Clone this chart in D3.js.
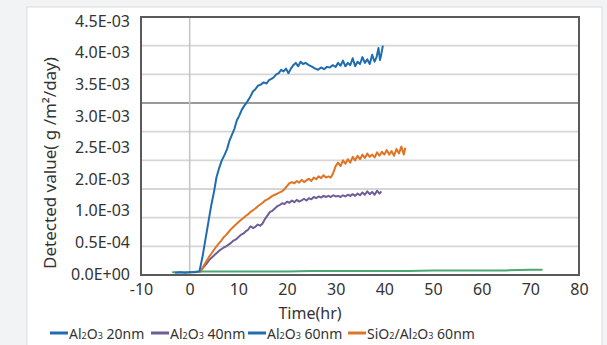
<!DOCTYPE html>
<html>
<head>
<meta charset="utf-8">
<script src="https://cdn.jsdelivr.net/npm/d3@7"></script>
<style>
  body { margin: 0; background: #f2f3f4; }
  svg { display: block; }
  text { font-family: "Noto Sans", "Open Sans", sans-serif; fill: #333; }
</style>
</head>
<body>
<div id="chart"></div>
<script>
// values in units of 1E-03 g/m2/day, time in hr
const xTicks = [-10, 0, 10, 20, 30, 40, 50, 60, 70, 80];
const gridValues = [0, 0.5, 1, 1.5, 2, 2.5, 3, 3.5, 4, 4.5];
// the printed labels, bottom to top (evenly spaced, as in the source picture)
const yTickLabels = ["0.0E+00", "0.5E-04", "1.0E-03", "2.0E-03", "2.5E-03", "3.0E-03", "3.5E-03", "4.0E-03", "4.5E-03"];

const seriesNames = ["Al₂O₃ 20nm", "Al₂O₃ 40nm", "Al₂O₃ 60nm", "SiO₂/Al₂O₃ 60nm"];
const legendColors = ["#1f6db0", "#6e5d98", "#1f6db0", "#e07424"];

const al20 = [[-3,0.04],[-2,0.05],[-1,0.04],[0,0.05],[1,0.05],[2,0.06],[2.6,0.3],[3.2,0.6],[3.8,0.9],[4.4,1.2],[5,1.45],[5.5,1.7],[6,1.85],[6.6,2.0],[7.2,2.1],[7.7,2.2],[8.2,2.35],[8.7,2.45],[9.2,2.55],[9.7,2.7],[10.2,2.78],[10.7,2.88],[11.2,2.95],[11.8,3.02],[12.4,3.1],[13,3.2],[13.5,3.24],[14,3.3],[14.6,3.32],[15.2,3.36],[15.8,3.34],[16.3,3.4],[16.8,3.42],[17.3,3.45],[17.8,3.5],[18.3,3.52],[18.8,3.58],[19.3,3.55],[19.8,3.6],[20.3,3.52],[20.8,3.6],[21.3,3.66],[21.8,3.7],[22.3,3.64],[22.8,3.72],[23.3,3.68],[23.8,3.7],[24.5,3.66],[25.2,3.63],[25.8,3.6],[26.4,3.58],[27,3.62],[27.6,3.59],[28.2,3.63],[28.8,3.62],[29.4,3.66],[30,3.63],[30.5,3.7],[31,3.65],[31.5,3.74],[32,3.64],[32.5,3.7],[33,3.66],[33.5,3.78],[34,3.64],[34.5,3.72],[35,3.68],[35.5,3.8],[36,3.7],[36.5,3.76],[37,3.68],[37.5,3.84],[38,3.72],[38.4,3.8],[38.8,3.96],[39.1,3.75],[39.4,3.86],[39.7,4.0]];
const al40 = [[2,0.05],[2.5,0.1],[3,0.15],[3.5,0.2],[4,0.26],[4.5,0.3],[5,0.34],[5.5,0.38],[6,0.42],[6.5,0.45],[7,0.48],[7.5,0.5],[8,0.53],[8.5,0.56],[9,0.6],[9.5,0.62],[10,0.66],[10.5,0.7],[11,0.72],[11.5,0.76],[12,0.79],[12.5,0.85],[13,0.82],[13.5,0.84],[14,0.88],[14.5,0.86],[15,0.9],[15.5,0.98],[16,1.04],[16.5,1.1],[17,1.12],[17.5,1.16],[18,1.2],[18.5,1.22],[19,1.25],[19.5,1.24],[20,1.28],[20.5,1.26],[21,1.3],[21.5,1.27],[22,1.31],[22.5,1.28],[23,1.3],[23.5,1.33],[24,1.3],[24.5,1.34],[25,1.32],[25.5,1.36],[26,1.34],[26.5,1.37],[27,1.35],[27.5,1.38],[28,1.36],[28.5,1.38],[29,1.36],[29.5,1.39],[30,1.37],[30.5,1.38],[31,1.36],[31.5,1.39],[32,1.37],[32.5,1.4],[33,1.38],[33.5,1.41],[34,1.38],[34.5,1.42],[35,1.39],[35.5,1.44],[36,1.4],[36.5,1.46],[37,1.41],[37.5,1.45],[38,1.4],[38.5,1.47],[39,1.42],[39.4,1.46]];
const al60 = [[-3.6,0.05],[-2,0.05],[0,0.05],[2,0.06],[5,0.06],[10,0.06],[15,0.06],[20,0.06],[25,0.07],[30,0.07],[35,0.07],[40,0.07],[45,0.07],[50,0.08],[55,0.08],[60,0.08],[65,0.08],[70,0.09],[72.5,0.09]];
const sio2 = [[2,0.05],[2.5,0.1],[3,0.18],[3.5,0.25],[4,0.32],[4.5,0.38],[5,0.44],[5.5,0.5],[6,0.55],[6.5,0.6],[7,0.66],[7.5,0.7],[8,0.75],[8.5,0.8],[9,0.84],[9.5,0.88],[10,0.92],[10.5,0.96],[11,0.99],[11.5,1.03],[12,1.06],[12.5,1.1],[13,1.13],[13.5,1.16],[14,1.2],[14.5,1.23],[15,1.26],[15.5,1.3],[16,1.32],[16.5,1.35],[17,1.38],[17.5,1.4],[18,1.42],[18.5,1.44],[19,1.46],[19.5,1.5],[20,1.55],[20.5,1.6],[21,1.62],[21.5,1.6],[22,1.64],[22.5,1.61],[23,1.66],[23.5,1.62],[24,1.65],[24.5,1.68],[25,1.64],[25.5,1.7],[26,1.67],[26.5,1.72],[27,1.69],[27.5,1.74],[28,1.7],[28.5,1.72],[29,1.7],[29.5,1.78],[30,1.9],[30.5,1.96],[31,1.9],[31.5,2.0],[32,1.94],[32.5,2.02],[33,1.96],[33.5,2.06],[34,2.0],[34.5,2.08],[35,2.02],[35.5,2.1],[36,2.04],[36.5,2.12],[37,2.06],[37.5,2.1],[38,2.05],[38.5,2.14],[39,2.08],[39.5,2.15],[40,2.1],[40.5,2.18],[41,2.1],[41.5,2.16],[42,2.08],[42.5,2.2],[43,2.12],[43.5,2.24],[44,2.1],[44.3,2.22]];

const lines = [
  { data: al60, color: "#4aa874" },
  { data: al40, color: "#6e5d98" },
  { data: sio2, color: "#e07424" },
  { data: al20, color: "#1f6db0" }
];

const width = 607, height = 345,
  margin = ({ top: 17, right: 28, bottom: 70, left: 141 });

const svg = d3.select("#chart").append("svg")
  .attr("width", width).attr("height", height);

// panel
svg.append("rect").attr("x", 27).attr("y", 7).attr("width", 575).attr("height", 345)
  .attr("fill", "#fff").attr("stroke", "#dcdcdc");

const x = d3.scaleLinear().domain([-10, 80]).range([margin.left, width - margin.right]);
const y = d3.scaleLinear().domain([0, 4.5]).range([height - margin.bottom, margin.top]);
// labels are evenly spread over the axis, independent of the grid
const yLab = d3.scalePoint().domain(yTickLabels).range([height - margin.bottom - 1, margin.top + 4]);

// grid
svg.append("g")
  .selectAll("line").data(gridValues).join("line")
  .attr("x1", x(-10)).attr("x2", x(80))
  .attr("y1", d => y(d)).attr("y2", d => y(d))
  .attr("stroke", d => d === 3 ? "#9a9a9a" : "#d6d6d6")
  .attr("stroke-width", 1.8);
svg.append("line")
  .attr("x1", x(0)).attr("x2", x(0)).attr("y1", y(0)).attr("y2", y(4.5))
  .attr("stroke", "#c4c4c4").attr("stroke-width", 1.5);

// y axis labels
svg.append("g")
  .attr("transform", `translate(${margin.left},0)`)
  .call(d3.axisLeft(yLab).tickSize(0).tickPadding(11))
  .call(g => g.select(".domain").remove())
  .call(g => g.selectAll("text").attr("font-size", 16).attr("fill", "#333")
    .attr("font-family", "'Noto Sans', sans-serif"));

// x axis labels
svg.append("g")
  .attr("transform", `translate(0,${height - margin.bottom})`)
  .call(d3.axisBottom(x).tickValues(xTicks).tickSize(0).tickPadding(9)
    .tickFormat(d => String(d)))
  .call(g => g.select(".domain").remove())
  .call(g => g.selectAll("text").attr("font-size", 16).attr("fill", "#333")
    .attr("font-family", "'Noto Sans', sans-serif"));

// series
const line = d3.line().x(d => x(d[0])).y(d => y(d[1]));
for (let s of lines) {
  svg.append("path").datum(s.data)
    .attr("fill", "none").attr("stroke", s.color)
    .attr("stroke-width", 2).attr("stroke-linejoin", "round")
    .attr("d", line);
}

// plot frame
svg.append("rect")
  .attr("x", x(-10)).attr("y", y(4.5))
  .attr("width", x(80) - x(-10)).attr("height", y(0) - y(4.5))
  .attr("fill", "none").attr("stroke", "#5a5a5a").attr("stroke-width", 2);

// axis titles
svg.append("text").text("Time(hr)")
  .attr("x", 310).attr("y", 319).attr("text-anchor", "middle").attr("font-size", 16);
svg.append("text").text("Detected value( g /m²/day)")
  .attr("transform", "translate(56,163) rotate(-90)")
  .attr("text-anchor", "middle").attr("font-size", 17);

// legend, subscripts drawn as small digits on the baseline
const subs = { "₂": "2", "₃": "3" };
const legendX = [50, 151, 248, 348];
const lg = svg.append("g");
seriesNames.forEach((name, i) => {
  lg.append("line").attr("x1", legendX[i]).attr("x2", legendX[i] + 18)
    .attr("y1", 333).attr("y2", 333)
    .attr("stroke", legendColors[i]).attr("stroke-width", 3);
  const t = lg.append("text").attr("x", legendX[i] + 19).attr("y", 338.5)
    .attr("font-size", 14);
  for (let ch of name) {
    if (subs[ch]) t.append("tspan").attr("font-size", 9).text(subs[ch]);
    else t.append("tspan").text(ch);
  }
});
</script>
</body>
</html>
